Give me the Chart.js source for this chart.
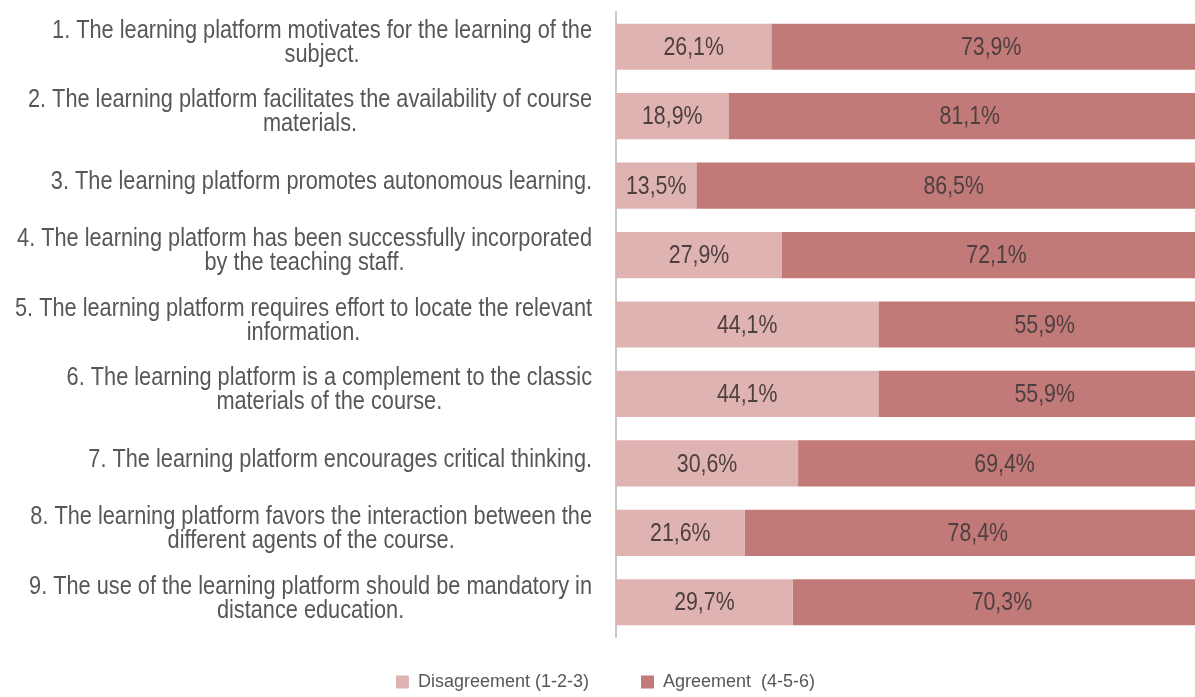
<!DOCTYPE html>
<html><head><meta charset="utf-8">
<script src="https://cdn.jsdelivr.net/npm/chart.js@4.4.1/dist/chart.umd.min.js"></script>
<style>
html,body{margin:0;padding:0;background:#fff;overflow:hidden;width:1195px;height:697px;}
#wrap{position:absolute;left:0;top:0;width:1213px;height:697px;}
</style></head><body>
<div id="wrap"><canvas id="c"></canvas></div>
<script>
const categories = [
  ["1. The learning platform motivates for the learning of the", "subject."],
  ["2. The learning platform facilitates the availability of course", "materials."],
  ["3. The learning platform promotes autonomous learning."],
  ["4. The learning platform has been successfully incorporated", "by the teaching staff."],
  ["5. The learning platform requires effort to locate the relevant", "information."],
  ["6. The learning platform is a complement to the classic", "materials of the course."],
  ["7. The learning platform encourages critical thinking."],
  ["8. The learning platform favors the interaction between the", "different agents of the course."],
  ["9. The use of the learning platform should be mandatory in", "distance education."]
];
const disagreement = [26.1, 18.9, 13.5, 27.9, 44.1, 44.1, 30.6, 21.6, 29.7];
const agreement = [73.9, 81.1, 86.5, 72.1, 55.9, 55.9, 69.4, 78.4, 70.3];
const seriesNames = ["Disagreement (1-2-3)", "Agreement  (4-5-6)"];
const seriesColors = ["#e0b3b3", "#c27a78"];

// font detection
const mctx = document.createElement('canvas').getContext('2d');
mctx.font = '40px "Liberation Sans Narrow", monospace';
const wN = mctx.measureText('abcdefghijklmnop').width;
mctx.font = '40px monospace';
const wM = mctx.measureText('abcdefghijklmnop').width;
const hasNarrow = Math.abs(wN - wM) > 0.5;
const FAM = hasNarrow ? '"Liberation Sans Narrow"' : '"Liberation Sans", Arial, sans-serif';
const HS = hasNarrow ? 1 : 0.82;

const LABEL_RIGHT = 592;
const LABEL_SIZE = 26.5;
const LABEL_LH = 24;
const VALUE_SIZE = 26;
const LEGEND_CY = 684;

const drawPlugin = {
  id: 'drawTexts',
  afterLayout(chart) {
    const lg = chart.legend;
    if (!lg) return;
    const P = lg.options.labels.padding;
    lg.top = LEGEND_CY - P - 11;
    lg.bottom = 697;
    lg.height = lg.bottom - lg.top;
  },
  afterDatasetsDraw(chart) {
    const ctx = chart.ctx;
    ctx.save();
    ctx.scale(HS, 1);
    ctx.textAlign = 'center';
    ctx.textBaseline = 'middle';
    ctx.font = VALUE_SIZE + 'px ' + FAM;
    ctx.fillStyle = '#4d3f3f';
    chart.data.datasets.forEach((ds, di) => {
      const meta = chart.getDatasetMeta(di);
      meta.data.forEach((bar, i) => {
        const v = ds.data[i];
        const cx = (bar.base + bar.x) / 2;
        ctx.fillText(v.toFixed(1).replace('.', ',') + '%', cx / HS, bar.y + 1);
      });
    });
    const ys = chart.scales.y;
    ctx.font = LABEL_SIZE + 'px ' + FAM;
    ctx.fillStyle = '#575757';
    chart.data.labels.forEach((lines, i) => {
      const y = ys.getPixelForTick(i) - 4;
      const w = Math.max(...lines.map(l => ctx.measureText(l).width)) * HS;
      const cx = LABEL_RIGHT - w / 2;
      const n = lines.length;
      lines.forEach((l, k) => ctx.fillText(l, cx / HS, y + (k - (n - 1) / 2) * LABEL_LH));
    });
    ctx.restore();
  }
};

new Chart(document.getElementById('c'), {
  type: 'bar',
  data: {
    labels: categories,
    datasets: [
      { label: seriesNames[0], data: disagreement, backgroundColor: seriesColors[0], borderWidth: 0, categoryPercentage: 1, barPercentage: 0.665 },
      { label: seriesNames[1], data: agreement, backgroundColor: seriesColors[1], borderWidth: 0, categoryPercentage: 1, barPercentage: 0.665 }
    ]
  },
  options: {
    indexAxis: 'y',
    responsive: true,
    maintainAspectRatio: false,
    animation: false,
    layout: { padding: { top: 12, right: 2, left: 0, bottom: 0 } },
    scales: {
      x: {
        stacked: true, min: 0, max: 100,
        ticks: { display: false }, grid: { display: false }, border: { display: false },
        afterFit(s) { s.height = 20; }
      },
      y: {
        stacked: true,
        ticks: { display: false }, grid: { display: false },
        border: { display: true, color: '#c8c8c8', width: 2 },
        afterFit(s) { s.width = 616; }
      }
    },
    plugins: {
      legend: {
        position: 'bottom',
        maxHeight: 40,
        labels: {
          boxWidth: 13, boxHeight: 13, padding: 52,
          color: '#575757',
          font: { family: FAM, size: hasNarrow ? 22 : 18 }
        }
      },
      tooltip: { enabled: false }
    }
  },
  plugins: [drawPlugin]
});
</script>
</body></html>
